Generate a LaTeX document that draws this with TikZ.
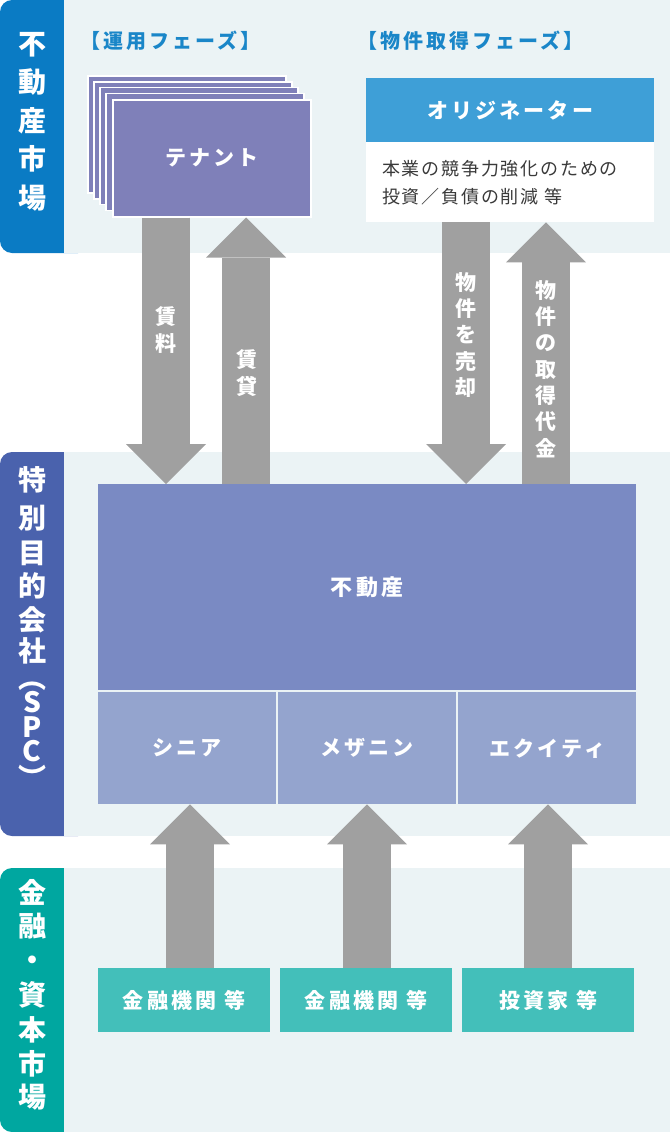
\documentclass[tikz,border=0pt]{standalone}
\usepackage{fontspec}
\usetikzlibrary{arrows.meta,calc}
\newfontfamily\jpf{Noto Sans CJK JP}
\newfontfamily\jpls{Noto Sans CJK JP}[LetterSpace=15]
\newfontfamily\jplt{Noto Sans CJK JP}[LetterSpace=10]
\definecolor{bandbg}{HTML}{EBF3F5}
\definecolor{tabA}{HTML}{0A7BC4}
\definecolor{tabB}{HTML}{4A62AD}
\definecolor{tabC}{HTML}{00A7A0}
\definecolor{phaseblue}{HTML}{1A86C8}
\definecolor{tenantc}{HTML}{7F80B9}
\definecolor{orihead}{HTML}{3E9FD7}
\definecolor{propc}{HTML}{7A8AC3}
\definecolor{subc}{HTML}{94A4CE}
\definecolor{botc}{HTML}{43BFBA}
\definecolor{arrowgray}{HTML}{A0A0A0}
\definecolor{bodytext}{HTML}{3A3A3A}
\begin{document}
\begin{tikzpicture}[x=1pt,y=-1pt,
  box/.style={rectangle, inner sep=0pt, anchor=north west, text=white,
    font=\jpls\bfseries\fontsize{21}{21}\selectfont},
  tabtxt/.style={inner sep=0pt, text=white, text height=0.76em, text depth=0.02em,
    font=\jpf\bfseries\fontsize{28}{28}\selectfont},
  arrtxt/.style={inner sep=0pt, text=white, align=center,
    font=\jpf\bfseries\fontsize{21}{26.3}\selectfont},
  phase/.style={inner sep=0pt, anchor=west, text=phaseblue,
    font=\jpls\bfseries\fontsize{20}{20}\selectfont},
  barrow/.style={draw=arrowgray, line width=48pt,
    -{Triangle[length=40pt,width=80pt,line width=0pt]}},
  layer/.style={fill=tenantc, draw=white, line width=1.5pt}
]
\useasboundingbox (0,0) rectangle (670,1132);
% bands
\fill[tabA, rounded corners=12pt] (0,0) rectangle (90,253);
\fill[bandbg] (64,0) rectangle (670,253);
\fill[tabB, rounded corners=12pt] (0,452) rectangle (90,836);
\fill[bandbg] (64,452) rectangle (670,836);
\fill[tabC, rounded corners=12pt] (0,868) rectangle (90,1132);
\fill[bandbg] (64,868) rectangle (670,1132);
% tab texts
\foreach \c/\y [count=\i] in {不/51,動/89,産/128,市/166,場/205}
  \node[tabtxt] (ta\i) at (32,\y) {\c};
\foreach \c/\y [count=\i] in {特/487,別/525,目/560,的/593,会/627,社/658,︵/685,S/709,P/734,C/758,︶/785}
  \node[tabtxt] (tb\i) at (32,\y) {\c};
\foreach \c/\y [count=\i] in {金/900,融/933,・/967,資/1002,本/1037,市/1071,場/1104}
  \node[tabtxt] (tc\i) at (32,\y) {\c};
% phase labels
\node[phase] (ph1) at (80,41) {【運用フェーズ】};
\node[phase] (ph2) at (357,41) {【物件取得フェーズ】};
% tenant stack
\foreach \i in {0,1,2,3}
  \fill[layer] ({88+6*\i},{76+5.75*\i}) rectangle ++(198,117);
\node[box, fill=tenantc, draw=white, line width=1.5pt, minimum width=198pt, minimum height=117pt] (ten) at (112,99) {テナント};
% originator
\node[box, fill=orihead, minimum width=288pt, minimum height=64pt] (orih) at (366,78) {オリジネーター};
\node[box, fill=white, text=bodytext, align=left, text width=256pt, inner xsep=16pt,
  minimum height=80pt, font=\jplt\fontsize{18}{28}\selectfont] (orib) at (366,142)
  {本業の競争力強化のための\\投資／負債の削減 等};
% property boxes
\node[box, fill=propc, minimum width=538pt, minimum height=206pt,
  font=\jpls\bfseries\fontsize{22}{22}\selectfont] (prop) at (98,484) {不動産};
\node[box, fill=subc, minimum width=178pt, minimum height=112pt] (sub1) at (98,692) {シニア};
\node[box, fill=subc, minimum width=178pt, minimum height=112pt] (sub2) at (278,692) {メザニン};
\node[box, fill=subc, minimum width=178pt, minimum height=112pt] (sub3) at (458,692) {エクイティ};
% bottom boxes
\node[box, fill=botc, minimum width=172pt, minimum height=64pt] (bot1) at (98,968) {金融機関 等};
\node[box, fill=botc, minimum width=172pt, minimum height=64pt] (bot2) at (280,968) {金融機関 等};
\node[box, fill=botc, minimum width=172pt, minimum height=64pt] (bot3) at (462,968) {投資家 等};
% arrow columns
\coordinate (xa) at (166,0);
\coordinate (xb) at (246,0);
\coordinate (xc) at (466,0);
\coordinate (xd) at (546,0);
\coordinate (xe) at (190,0);
\coordinate (xf) at (367,0);
\coordinate (xg) at (548,0);
\draw[barrow] (ten.south -| xa) -- (prop.north -| xa);
\draw[barrow] (prop.north -| xb) -- (ten.south -| xb);
\draw[barrow] (orib.south -| xc) -- (prop.north -| xc);
\draw[barrow] (prop.north -| xd) -- (orib.south -| xd);
\draw[barrow] (bot1.north -| xe) -- (sub1.south -| xe);
\draw[barrow] (bot2.north -| xf) -- (sub2.south -| xf);
\draw[barrow] (bot3.north -| xg) -- (sub3.south -| xg);
% arrow labels
\node[arrtxt] (l1) at (166,330) {賃\\料};
\node[arrtxt] (l2) at (247,373) {賃\\貸};
\node[arrtxt] (l3) at (466,335) {物\\件\\を\\売\\却};
\node[arrtxt] (l4) at (546,369) {物\\件\\の\\取\\得\\代\\金};
\end{tikzpicture}
\end{document}
